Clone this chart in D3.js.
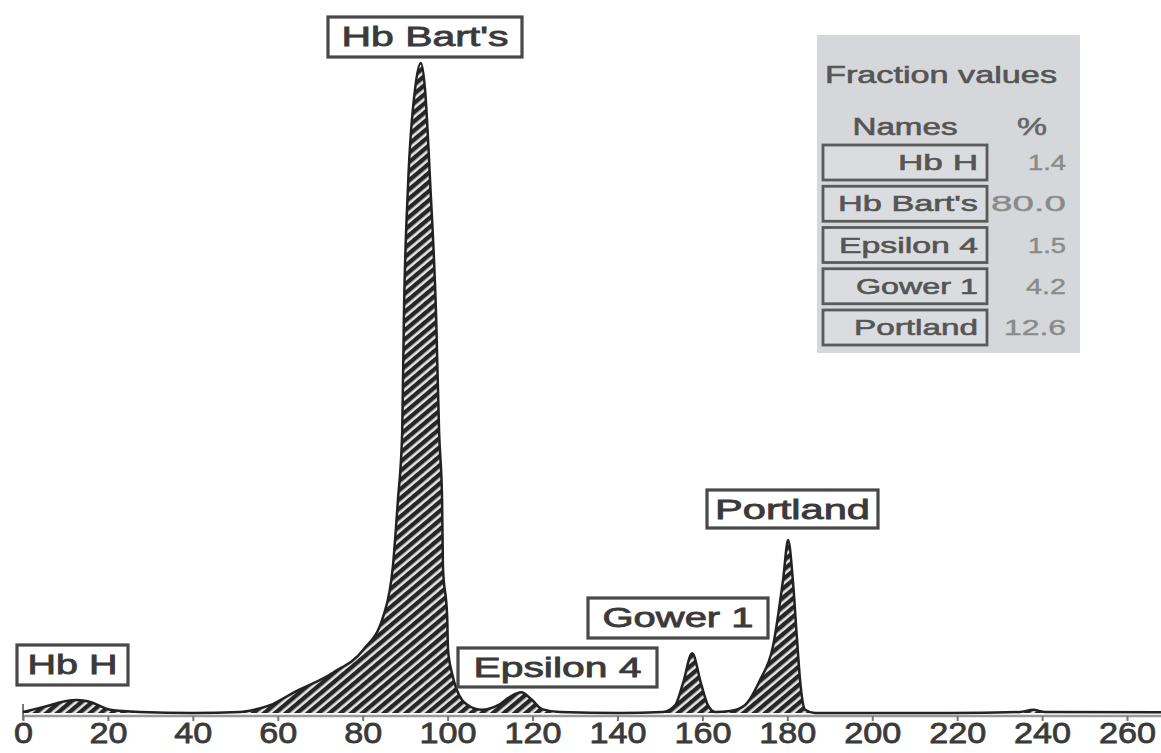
<!DOCTYPE html>
<html><head><meta charset="utf-8">
<script src="https://cdn.jsdelivr.net/npm/d3@7/dist/d3.min.js"></script>
<style>html,body{margin:0;padding:0;background:#fff;}svg{display:block;}</style>
</head><body>
<svg id="chart" width="1161" height="753"></svg>
<script>
// ---- data ----
const traceTime   = [0, 2.8, 6.4, 9.9, 12.7, 15.8, 20.5, 27.6, 40, 51.1, 54.5, 58.2, 63.6, 73.0, 80.1, 84.8, 87.1, 88.3, 89.3, 89.7, 90.7, 92.3, 93.7, 94.7, 95.9, 97.3, 98.0, 98.7, 98.9, 99.9, 100.1, 101.0, 102.2, 104.8, 108.1, 111.9, 114.7, 117.3, 119.9, 122.2, 126.5, 140.6, 150.7, 153.6, 155.4, 157.6, 159.7, 161.3, 163.0, 166.5, 170.0, 173.6, 176.6, 179.0, 180.2, 181.3, 182.3, 183.0, 184.2, 186.5, 218.3, 234.8, 237.9, 240.7, 268];
const traceSignal = [0.15, 0.6, 1.2, 1.8, 2.0, 1.7, 0.5, 0.15, 0, 0.15, 0.5, 1.2, 3.1, 6.2, 9.7, 14.8, 22.5, 32.8, 43.1, 60.9, 81.5, 95.8, 100, 95.8, 81.5, 60.9, 43.1, 32.8, 22.5, 14.8, 9.7, 6.2, 3.5, 1.2, 0.5, 1.2, 2.5, 3.2, 2.0, 0.6, 0.15, 0, 0.15, 1.2, 4.5, 9.2, 4.5, 1.2, 0.15, 0.3, 1.2, 5.1, 10.2, 20.5, 26.6, 20.5, 11.2, 5.1, 0.5, 0, 0, 0.15, 0.5, 0.15, 0.1];
const peakNames   = ["Hb H", "Hb Bart's", "Epsilon 4", "Gower 1", "Portland"];
const fractionPct = ["1.4", "80.0", "1.5", "4.2", "12.6"];
const xTicks      = [0, 20, 40, 60, 80, 100, 120, 140, 160, 180, 200, 220, 240, 260];
const tableTitle  = "Fraction values";
const colHeaders  = ["Names", "%"];

// ---- layout ----
const svg = d3.select("#chart");
const W = 1161, H = 753;
const x = d3.scaleLinear().domain([0, 260]).range([23, 1127]);
const y = d3.scaleLinear().domain([0, 100]).range([713, 63]);
const font = "Liberation Sans, Arial, Helvetica, sans-serif";

// hatch pattern
const defs = svg.append("defs");
const pat = defs.append("pattern").attr("id", "hatch")
  .attr("patternUnits", "userSpaceOnUse").attr("width", 7).attr("height", 7)
  .attr("patternTransform", "rotate(-40)");
pat.append("rect").attr("width", 7).attr("height", 7).attr("fill", "#e6e6e6");
pat.append("rect").attr("width", 7).attr("height", 4.4).attr("fill", "#262626");

const pts = traceTime.map((t, i) => [t, traceSignal[i]]);

// axis
const axisY = 716;
svg.append("line").attr("x1", x(0)).attr("x2", W).attr("y1", axisY).attr("y2", axisY)
  .attr("stroke", "#9a9a9a").attr("stroke-width", 2.5);
svg.append("line").attr("x1", x(0)).attr("x2", x(0)).attr("y1", 704).attr("y2", axisY + 4)
  .attr("stroke", "#777").attr("stroke-width", 2);
const ax = svg.append("g").attr("transform", `translate(0,${axisY})`)
  .call(d3.axisBottom(x).tickValues(xTicks).tickSize(5).tickFormat(d3.format("d")));
ax.select(".domain").remove();
ax.selectAll(".tick line").attr("stroke", "#777").attr("stroke-width", 2);
ax.selectAll(".tick text")
  .attr("y", 27).attr("dy", 0)
  .attr("font-family", font).attr("font-size", 30).attr("fill", "#3a3a3a")
  .attr("stroke", "#3a3a3a").attr("stroke-width", 0.8)
  .attr("textLength", d => String(d).length * 19).attr("lengthAdjust", "spacingAndGlyphs");

// trace area + outline
svg.append("path").datum(pts)
  .attr("d", d3.area().x(d => x(d[0])).y0(y(0)).y1(d => y(d[1])).curve(d3.curveMonotoneX))
  .attr("fill", "url(#hatch)");
svg.append("path").datum(pts)
  .attr("d", d3.line().x(d => x(d[0])).y(d => y(d[1])).curve(d3.curveMonotoneX))
  .attr("fill", "none").attr("stroke", "#222").attr("stroke-width", 2.5);

// peak labels (box: x, y, w, h ; text width)
const labelBoxes = {
  "Hb H":      {bx: 17,  by: 645, bw: 111, bh: 40, tw: 90},
  "Hb Bart's": {bx: 328, by: 17,  bw: 194, bh: 40, tw: 167},
  "Epsilon 4": {bx: 458, by: 648, bw: 199, bh: 39, tw: 168},
  "Gower 1":   {bx: 588, by: 598, bw: 180, bh: 40, tw: 151},
  "Portland":  {bx: 707, by: 490, bw: 171, bh: 38, tw: 155}
};
const lab = svg.append("g").selectAll("g").data(peakNames).join("g");
lab.append("rect")
  .attr("x", d => labelBoxes[d].bx).attr("y", d => labelBoxes[d].by)
  .attr("width", d => labelBoxes[d].bw).attr("height", d => labelBoxes[d].bh)
  .attr("fill", "#fff").attr("stroke", "#484848").attr("stroke-width", 3.2);
lab.append("text")
  .attr("x", d => labelBoxes[d].bx + labelBoxes[d].bw / 2)
  .attr("y", d => labelBoxes[d].by + 29)
  .attr("text-anchor", "middle")
  .attr("font-family", font).attr("font-size", 27).attr("fill", "#3a3a3a")
  .attr("stroke", "#3a3a3a").attr("stroke-width", 0.8)
  .attr("textLength", d => labelBoxes[d].tw).attr("lengthAdjust", "spacingAndGlyphs")
  .text(d => d);

// fraction table panel
const tbl = svg.append("g");
tbl.append("rect").attr("x", 817).attr("y", 35).attr("width", 263).attr("height", 318)
  .attr("fill", "#d5d7da");
tbl.append("text").attr("x", 941).attr("y", 83).attr("text-anchor", "middle")
  .attr("font-family", font).attr("font-size", 24).attr("fill", "#555")
  .attr("stroke", "#555").attr("stroke-width", 0.6)
  .attr("textLength", 232).attr("lengthAdjust", "spacingAndGlyphs").text(tableTitle);
tbl.append("text").attr("x", 905).attr("y", 135).attr("text-anchor", "middle")
  .attr("font-family", font).attr("font-size", 23).attr("fill", "#555")
  .attr("stroke", "#555").attr("stroke-width", 0.6)
  .attr("textLength", 105).attr("lengthAdjust", "spacingAndGlyphs").text(colHeaders[0]);
tbl.append("text").attr("x", 1032).attr("y", 135).attr("text-anchor", "middle")
  .attr("font-family", font).attr("font-size", 23).attr("fill", "#666")
  .attr("stroke", "#666").attr("stroke-width", 0.5)
  .attr("textLength", 30).attr("lengthAdjust", "spacingAndGlyphs").text(colHeaders[1]);

const nameWidths = [80, 140, 139, 122, 124];
const valWidths = [38, 75, 38, 40, 62];
const rowTop = d3.scaleLinear().domain([0, 4]).range([145, 310]);
const rows = tbl.selectAll("g.row").data(peakNames).join("g").attr("class", "row");
rows.append("rect").attr("x", 823).attr("y", (d, i) => rowTop(i))
  .attr("width", 164).attr("height", 35)
  .attr("fill", "#dadcdf").attr("stroke", "#5a5a5a").attr("stroke-width", 2.8);
rows.append("text").attr("x", 978).attr("y", (d, i) => rowTop(i) + 25)
  .attr("text-anchor", "end").attr("font-family", font).attr("font-size", 22).attr("fill", "#555")
  .attr("stroke", "#555").attr("stroke-width", 0.6)
  .attr("textLength", (d, i) => nameWidths[i]).attr("lengthAdjust", "spacingAndGlyphs")
  .text(d => d);
rows.append("text").attr("x", 1066).attr("y", (d, i) => rowTop(i) + 25)
  .attr("text-anchor", "end").attr("font-family", font).attr("font-size", 22).attr("fill", "#8a8a8a")
  .attr("stroke", "#8a8a8a").attr("stroke-width", 0.4)
  .attr("textLength", (d, i) => valWidths[i]).attr("lengthAdjust", "spacingAndGlyphs")
  .text((d, i) => fractionPct[i]);
</script>
</body></html>
